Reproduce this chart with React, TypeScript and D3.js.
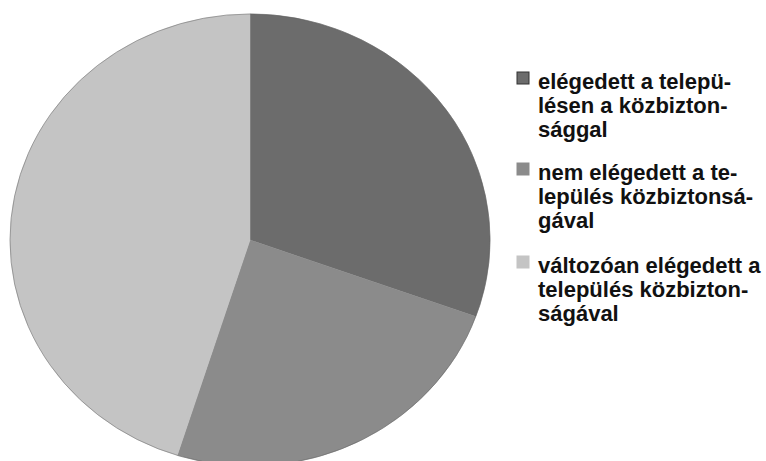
import React from "react";
import * as d3 from "d3";

const categories = [
  "elégedett a településen a közbiztonsággal",
  "nem elégedett a település közbiztonságával",
  "változóan elégedett a település közbiztonságával",
];
const values = [30.5, 24.4, 45.1];
const colors = ["#6c6c6c", "#8b8b8b", "#c4c4c4"];
const legendLines = [
  ["elégedett a telepü-", "lésen a közbizton-", "sággal"],
  ["nem elégedett a te-", "lepülés közbiztonsá-", "gával"],
  ["változóan elégedett a", "település közbizton-", "ságával"],
];

const W = 766;
const H = 461;
const cx = 250;
const cy = 240;
const rx = 240;
const ry = 226;
const groupTops = [89, 180, 273];
const lineH = 24;

export default function App() {
  const data = categories.map((c, i) => ({ c, v: values[i], i }));
  const pie = d3.pie<any>().sort(null).value((d: any) => d.v);
  const arcs = pie(data);
  const arc = d3.arc<any>().innerRadius(0).outerRadius(rx);

  return (
    <svg
      width={W}
      height={H}
      style={{ position: "absolute", left: 0, top: 0, background: "#fff" }}
      fontFamily="'Liberation Sans', Arial, sans-serif"
    >
      <rect x={0} y={0} width={W} height={H} fill="#fff" />
      <g transform={`translate(${cx},${cy}) scale(1,${ry / rx})`}>
        {arcs.map((a, i) => (
          <path key={i} d={arc(a) || ""} fill={colors[i]} stroke={colors[i]} strokeWidth={0.5} />
        ))}
        <ellipse cx={0} cy={0} rx={rx} ry={rx} fill="none" stroke="#5e5e5e" strokeWidth={1} opacity={0.5} />
      </g>
      {legendLines.map((lines, gi) => (
        <g key={gi}>
          <rect
            x={517}
            y={groupTops[gi] - 17}
            width={12}
            height={12}
            fill={colors[gi]}
            stroke={gi === 0 ? "#333" : colors[gi]}
            strokeWidth={1}
          />
          {lines.map((t, li) => (
            <text
              key={li}
              x={538}
              y={groupTops[gi] + li * lineH}
              fontSize={22}
              fontWeight="bold"
              fill="#111"
            >
              {t}
            </text>
          ))}
        </g>
      ))}
    </svg>
  );
}
